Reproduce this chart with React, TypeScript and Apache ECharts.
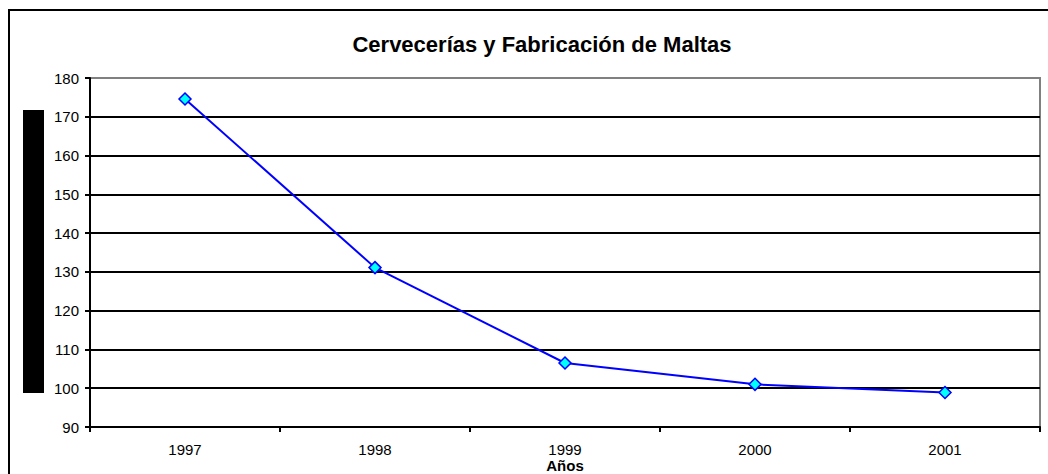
import React, { useEffect, useRef } from "react";
import * as echarts from "echarts";

const titleText = "Cervecerías y Fabricación de Maltas";
const xAxisName = "Años";
const categories = ["1997", "1998", "1999", "2000", "2001"];
const values = [174.6, 131.1, 106.5, 101.0, 98.9];
const yMin = 90;
const yMax = 180;
const yStep = 10;

export default function App() {
  const ref = useRef<HTMLDivElement>(null);
  useEffect(() => {
    document.body.style.margin = "0";
    if (!ref.current) return;
    const chart = echarts.init(ref.current, null, { renderer: "svg" });
    const nLines = (yMax - yMin) / yStep + 1;
    const splitColors: string[] = [];
    for (let i = 0; i < nLines; i++) splitColors.push(i === nLines - 1 ? "#808080" : "#000000");
    chart.setOption({
      animation: false,
      backgroundColor: "#ffffff",
      textStyle: { fontFamily: "'Liberation Sans', Arial, sans-serif" },
      title: {
        text: titleText,
        left: 537,
        top: 28,
        textAlign: "center",
        textStyle: {
          fontFamily: "'Liberation Sans', Arial, sans-serif",
          fontSize: 22,
          fontWeight: "bold",
          color: "#000",
        },
      },
      graphic: [
        {
          type: "rect",
          shape: { x: 9, y: 10, width: 1200, height: 600 },
          style: { fill: "none", stroke: "#000", lineWidth: 2 },
          z: 100,
        },
        {
          type: "rect",
          shape: { x: 23, y: 110, width: 21, height: 283 },
          style: { fill: "#000" },
        },
        {
          type: "text",
          x: 565,
          y: 465,
          style: {
            text: xAxisName,
            fill: "#000",
            font: "bold 15px 'Liberation Sans', Arial, sans-serif",
            align: "center",
            verticalAlign: "middle",
          },
        },
      ],
      grid: {
        left: 90,
        right: 8,
        top: 78,
        bottom: 47,
        outerBoundsMode: "none",
        containLabel: false,
        show: true,
        borderColor: "#808080",
        borderWidth: 2,
        backgroundColor: "#fff",
      },
      xAxis: {
        type: "category",
        data: categories,
        boundaryGap: true,
        axisLine: { show: true, lineStyle: { color: "#000", width: 2 } },
        axisTick: { show: true, alignWithLabel: false, length: 5, lineStyle: { color: "#000", width: 2 } },
        axisLabel: { color: "#000", fontSize: 15, margin: 15 },
        splitLine: { show: false },
      },
      yAxis: {
        type: "value",
        min: yMin,
        max: yMax,
        interval: yStep,
        axisLine: { show: true, lineStyle: { color: "#000", width: 2 } },
        axisTick: { show: true, length: 5, lineStyle: { color: "#000", width: 2 } },
        axisLabel: { color: "#000", fontSize: 15, margin: 11 },
        splitLine: { show: true, lineStyle: { color: splitColors, width: 2 } },
      },
      series: [
        {
          type: "line",
          data: values,
          symbol: "diamond",
          symbolSize: 12,
          lineStyle: { color: "#0000ff", width: 2 },
          itemStyle: { color: "#00ffff", borderColor: "#0000ff", borderWidth: 1.5 },
        },
      ],
    });
    return () => chart.dispose();
  }, []);
  return <div ref={ref} style={{ width: 1048, height: 474 }} />;
}
